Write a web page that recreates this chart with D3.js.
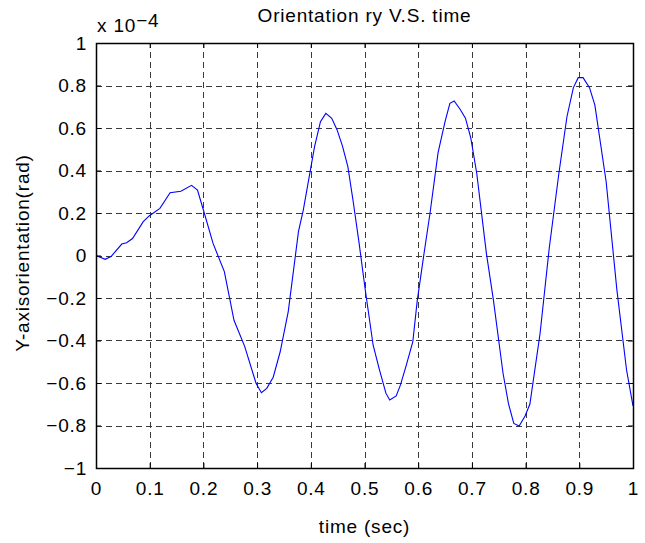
<!DOCTYPE html>
<html>
<head>
<meta charset="utf-8">
<script src="https://cdn.jsdelivr.net/npm/d3@7"></script>
<style>
  html, body { margin: 0; padding: 0; background: #fff; }
  svg { display: block; }
  text { font-family: "Liberation Sans", Arial, Helvetica, sans-serif; fill: #000; letter-spacing: 0.8px; }
</style>
</head>
<body>
<svg id="chart" width="645" height="543"></svg>
<script>
// Time samples (s) and Y-axis orientation (rad, in units of 1e-4)
const time = [
  0.000, 0.017, 0.028, 0.048, 0.057, 0.068, 0.088, 0.099, 0.119, 0.138,
  0.158, 0.178, 0.189, 0.200, 0.218, 0.239, 0.257, 0.277, 0.298, 0.308,
  0.318, 0.330, 0.343, 0.358, 0.377, 0.386, 0.407, 0.418, 0.428, 0.439,
  0.449, 0.459, 0.469, 0.479, 0.490, 0.501, 0.516, 0.528, 0.540, 0.547,
  0.559, 0.567, 0.578, 0.590, 0.598, 0.610, 0.622, 0.637, 0.650, 0.659,
  0.667, 0.678, 0.688, 0.698, 0.709, 0.727, 0.740, 0.758, 0.768, 0.778,
  0.788, 0.799, 0.808, 0.827, 0.844, 0.862, 0.877, 0.889, 0.898, 0.907,
  0.919, 0.929, 0.950, 0.970, 0.988, 1.000
];
const orientation = [
  0.000, -0.018, -0.005, 0.054, 0.060, 0.080, 0.159, 0.186, 0.222, 0.295,
  0.302, 0.330, 0.308, 0.214, 0.057, -0.076, -0.305, -0.429, -0.601, -0.646,
  -0.625, -0.573, -0.453, -0.264, 0.112, 0.214, 0.512, 0.630, 0.669, 0.646,
  0.591, 0.515, 0.418, 0.253, 0.057, -0.154, -0.421, -0.539, -0.649, -0.680,
  -0.661, -0.609, -0.515, -0.405, -0.217, -0.005, 0.199, 0.484, 0.630, 0.716,
  0.727, 0.688, 0.646, 0.552, 0.387, 0.010, -0.209, -0.554, -0.696, -0.790,
  -0.802, -0.755, -0.699, -0.366, 0.034, 0.387, 0.653, 0.790, 0.837, 0.837,
  0.790, 0.708, 0.347, -0.162, -0.539, -0.708
];

const xTicks = [0, 0.1, 0.2, 0.3, 0.4, 0.5, 0.6, 0.7, 0.8, 0.9, 1];
const yTicks = [-1, -0.8, -0.6, -0.4, -0.2, 0, 0.2, 0.4, 0.6, 0.8, 1];
const xTickLabels = ["0", "0.1", "0.2", "0.3", "0.4", "0.5", "0.6", "0.7", "0.8", "0.9", "1"];
const yTickLabels = ["\u22121", "\u22120.8", "\u22120.6", "\u22120.4", "\u22120.2", "0", "0.2", "0.4", "0.6", "0.8", "1"];

const titleText = "Orientation ry V.S. time";
const xLabelText = "time (sec)";
const yLabelText = "Y-axisorientation(rad)";

const plotL = 96, plotR = 633, plotT = 43, plotB = 468;
const svg = d3.select("#chart");

const x = d3.scaleLinear().domain([0, 1]).range([plotL, plotR]);
const y = d3.scaleLinear().domain([-1, 1]).range([plotB, plotT]);

// dashed grid
const grid = svg.append("g").attr("stroke", "#3a3a3a").attr("stroke-width", 1)
  .attr("stroke-dasharray", "6,4").attr("shape-rendering", "crispEdges");
grid.selectAll("line.gx").data(xTicks.slice(1, -1)).join("line")
  .attr("x1", d => Math.round(x(d)) + 0.5).attr("x2", d => Math.round(x(d)) + 0.5)
  .attr("y1", plotB).attr("y2", plotT);
grid.selectAll("line.gy").data(yTicks.slice(1, -1)).join("line")
  .attr("y1", d => Math.round(y(d)) + 0.5).attr("y2", d => Math.round(y(d)) + 0.5)
  .attr("x1", plotL).attr("x2", plotR);

// data line
const line = d3.line().x((d, i) => x(time[i])).y(d => y(d));
svg.append("path").datum(orientation)
  .attr("d", line).attr("fill", "none")
  .attr("stroke", "#0000ff").attr("stroke-width", 1.1);

// axes with inward ticks on all four sides
const fontSize = 19;
const axB = d3.axisBottom(x).tickValues(xTicks).tickSizeInner(-5).tickSizeOuter(0)
  .tickFormat((d, i) => xTickLabels[i]).tickPadding(14);
const axT = d3.axisTop(x).tickValues(xTicks).tickSizeInner(-5).tickSizeOuter(0).tickFormat("");
const axL = d3.axisLeft(y).tickValues(yTicks).tickSizeInner(-5).tickSizeOuter(0)
  .tickFormat((d, i) => yTickLabels[i]).tickPadding(9);
const axR = d3.axisRight(y).tickValues(yTicks).tickSizeInner(-5).tickSizeOuter(0).tickFormat("");

function style(g) {
  g.select(".domain").remove();
  g.selectAll(".tick line").attr("stroke", "#000").attr("stroke-width", 1);
  g.selectAll("text").attr("font-size", fontSize)
    .attr("font-family", "'Liberation Sans', Arial, Helvetica, sans-serif").attr("fill", "#000");
}
svg.append("g").attr("transform", `translate(0,${plotB})`).call(axB).call(style);
svg.append("g").attr("transform", `translate(0,${plotT})`).call(axT).call(style);
svg.append("g").attr("transform", `translate(${plotL},0)`).call(axL).call(style);
svg.append("g").attr("transform", `translate(${plotR},0)`).call(axR).call(style);

// axes box
svg.append("rect").attr("x", plotL + 0.5).attr("y", plotT + 0.5)
  .attr("width", plotR - plotL).attr("height", plotB - plotT)
  .attr("fill", "none").attr("stroke", "#000").attr("stroke-width", 1.5);

// exponent label
const expo = svg.append("text").attr("x", 97).attr("y", 32).attr("font-size", fontSize);
expo.append("tspan").text("x 10");
expo.append("tspan").attr("dy", -5).text("\u22124");

// title and axis labels
svg.append("text").attr("x", (plotL + plotR) / 2).attr("y", 22)
  .attr("text-anchor", "middle").attr("font-size", fontSize).text(titleText);
svg.append("text").attr("x", (plotL + plotR) / 2).attr("y", 533)
  .attr("text-anchor", "middle").attr("font-size", fontSize).text(xLabelText);
svg.append("text").attr("transform", `translate(29,253) rotate(-90)`)
  .attr("text-anchor", "middle").attr("font-size", fontSize).text(yLabelText);
</script>
</body>
</html>
